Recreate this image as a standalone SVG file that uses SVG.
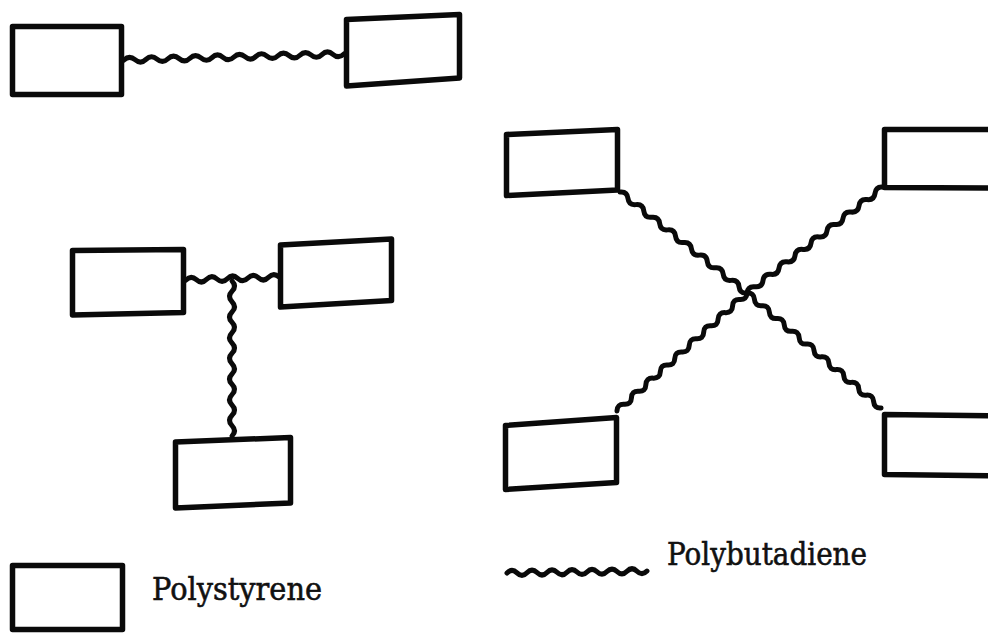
<svg xmlns="http://www.w3.org/2000/svg" width="988" height="635" viewBox="0 0 988 635">
  <style>
    .ps { fill: #fff; stroke: #0a0a0a; stroke-width: 5.5; stroke-linejoin: round; }
    .pb { fill: none; stroke: #0a0a0a; stroke-width: 5; stroke-linecap: round; stroke-linejoin: round; }
    .lbl { font-family: "DejaVu Serif", "Liberation Serif", serif; font-size: 31px; fill: #111; stroke: #111; stroke-width: 0.6; }
  </style>
  <rect width="988" height="635" fill="#fff"/>

  <!-- polybutadiene chains (wavy) -->
  <g id="connectors">
    <!-- linear triblock -->
    <path class="pb" transform="translate(124,60) rotate(-1.56)" d="M0,0 q5.5,-5 11,0 t11,0 t11,0 t11,0 t11,0 t11,0 t11,0 t11,0 t11,0 t11,0 t11,0 t11,0 t11,0 t11,0 t11,0 t11,0 t11,0 t11,0 t11,0 t11,0"/>
    <!-- T-shaped star -->
    <path class="pb" transform="translate(186,280) rotate(-1.85)" d="M0,0 q5.17,-5 10.33,0 t10.33,0 t10.33,0 t10.33,0 t10.33,0 t10.33,0 t10.33,0 t10.33,0 t10.33,0"/>
    <path class="pb" transform="translate(232,281) rotate(90)" d="M0,0 q5.17,-5 10.33,0 t10.33,0 t10.33,0 t10.33,0 t10.33,0 t10.33,0 t10.33,0 t10.33,0 t10.33,0 t10.33,0 t10.33,0 t10.33,0 t10.33,0 t10.33,0 t10.33,0"/>
    <!-- four-arm star -->
    <path class="pb" transform="translate(620,192) rotate(38.5)" d="M0,0 q5.07,-5 10.14,0 t10.14,0 t10.14,0 t10.14,0 t10.14,0 t10.14,0 t10.14,0 t10.14,0 t10.14,0 t10.14,0 t10.14,0 t10.14,0 t10.14,0 t10.14,0 t10.14,0 t10.14,0"/>
    <path class="pb" transform="translate(747,293) rotate(40.6)" d="M0,0 q4.9,-5 9.81,0 t9.81,0 t9.81,0 t9.81,0 t9.81,0 t9.81,0 t9.81,0 t9.81,0 t9.81,0 t9.81,0 t9.81,0 t9.81,0 t9.81,0 t9.81,0 t9.81,0 t9.81,0 t9.81,0 t9.81,0"/>
    <path class="pb" transform="translate(747,293) rotate(-37.9)" d="M0,0 q5.07,-5 10.14,0 t10.14,0 t10.14,0 t10.14,0 t10.14,0 t10.14,0 t10.14,0 t10.14,0 t10.14,0 t10.14,0 t10.14,0 t10.14,0 t10.14,0 t10.14,0 t10.14,0 t10.14,0 t10.14,0"/>
    <path class="pb" transform="translate(747,293) rotate(137.8)" d="M0,0 q4.87,-5 9.75,0 t9.75,0 t9.75,0 t9.75,0 t9.75,0 t9.75,0 t9.75,0 t9.75,0 t9.75,0 t9.75,0 t9.75,0 t9.75,0 t9.75,0 t9.75,0 t9.75,0 t9.75,0 t9.75,0 t9.75,0"/>
  </g>

  <!-- polystyrene blocks -->
  <g id="linear-left"><rect class="ps" x="12.5" y="26.5" width="109" height="68"/></g>
  <g id="linear-right"><polygon class="ps" points="346.5,19.5 459.5,14.5 459.5,78 346.5,86"/></g>

  <g id="t-left"><polygon class="ps" points="72.5,250.5 183.5,249.5 183.5,312.5 72.5,315"/></g>
  <g id="t-right"><polygon class="ps" points="280.5,245 391.5,239 391.5,300.5 280.5,307"/></g>
  <g id="t-bottom"><polygon class="ps" points="175.5,442 290.5,437.5 290.5,503 175.5,508"/></g>

  <g id="x-top-left"><polygon class="ps" points="506.5,134.5 617.5,129.5 617.5,190 506.5,195.5"/></g>
  <g id="x-top-right"><polygon class="ps" points="884.5,129.5 1000,129.5 1000,188 884.5,187.5"/></g>
  <g id="x-bottom-left"><polygon class="ps" points="505.5,425.5 616.5,417.5 616.5,482.5 505.5,489.5"/></g>
  <g id="x-bottom-right"><polygon class="ps" points="884.5,414.5 1000,416 1000,476 884.5,474.5"/></g>

  <!-- legend -->
  <g id="legend-polystyrene">
    <rect class="ps" x="12.5" y="565.5" width="110" height="64"/>
    <text class="lbl" x="152" y="600" textLength="170" lengthAdjust="spacingAndGlyphs">Polystyrene</text>
  </g>
  <g id="legend-polybutadiene">
    <path class="pb" transform="translate(507,573) rotate(-0.8)" d="M0,0 q5,-5 10,0 t10,0 t10,0 t10,0 t10,0 t10,0 t10,0 t10,0 t10,0 t10,0 t10,0 t10,0 t10,0 t10,0"/>
    <text class="lbl" x="667" y="565" textLength="200" lengthAdjust="spacingAndGlyphs">Polybutadiene</text>
  </g>
</svg>
